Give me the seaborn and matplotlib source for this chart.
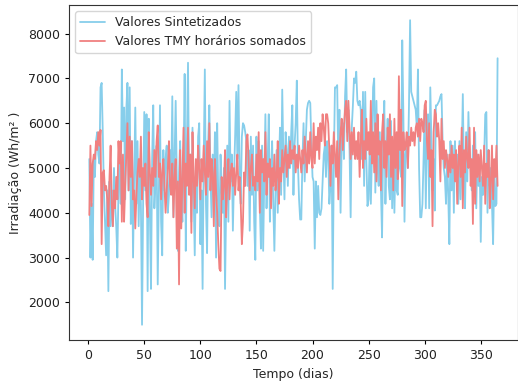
import numpy as np
import pandas as pd
import seaborn as sns
import matplotlib
matplotlib.use("Agg")
import matplotlib.pyplot as plt

# Daily irradiation (Wh/m²), days 1..365
sintetizados = [
    5200, 3000, 4200, 2950, 5200, 4800, 5600, 5800, 5300, 5100,
    6800, 6900, 5800, 4500, 3800, 3050, 4500, 2250, 4700, 3700,
    4500, 3700, 5000, 4200, 3700, 3000, 4500, 5300, 4200, 7200,
    5600, 6350, 4300, 6300, 6900, 4500, 6800, 3750, 5600, 3000,
    4800, 6350, 4200, 5600, 3700, 4900, 4200, 1500, 4300, 6250,
    4500, 6200, 2250, 6100, 4000, 2300, 5200, 6400, 4100, 4700,
    5500, 2400, 4400, 6400, 3800, 3050, 5400, 4500, 5200, 5500,
    4000, 4400, 5400, 4600, 6600, 3900, 5200, 6500, 4800, 3150,
    4900, 5600, 4200, 3800, 5000, 7100, 3150, 5500, 7350, 4600,
    5300, 3800, 5900, 4400, 3050, 4800, 4000, 5700, 6000, 3300,
    4500, 2300, 5200, 7200, 4200, 3100, 5600, 6400, 4800, 3900,
    5300, 4400, 5800, 3000, 6000, 4300, 3700, 5300, 4500, 4000,
    5000, 2300, 4200, 5500, 3800, 6500, 4700, 5300, 3600, 4800,
    5700, 6700, 5200, 6850, 4900, 4200, 5700, 6000, 5950, 5800,
    5600, 4600, 5400, 3600, 5700, 4400, 5500, 3800, 2950, 5700,
    4500, 5600, 4200, 3200, 5500, 3150, 4800, 6200, 4100, 5100,
    6200, 3800, 4900, 5600, 4200, 3150, 4500, 5400, 4000, 5000,
    5900, 4400, 6750, 5300, 4300, 5800, 5400, 4600, 5700, 5000,
    5800, 6400, 4400, 5500, 6000, 6950, 5100, 4300, 3850, 3850,
    5200, 6000, 4700, 5600, 6300, 6450, 6500, 6450, 5500, 4800,
    4700, 3200, 4700, 3900, 4600, 4000, 3950, 4100, 4700, 5300,
    5500, 4800, 5600, 5300, 4200, 4600, 5500, 2300, 5100, 6800,
    6800, 6850, 5000, 6300, 4000, 5500, 6000, 5200, 6600, 7200,
    5800, 6300, 5400, 3900, 5900, 6400, 7000, 6900, 7150, 6500,
    6400, 6500, 6300, 5200, 6700, 4600, 6700, 5200, 4150, 4300,
    5600, 4200, 5300, 6800, 7000, 4450, 6500, 5000, 4600, 5800,
    4500, 3450, 5600, 6500, 4200, 5400, 6100, 4600, 4300, 6050,
    4100, 5600, 4000, 5200, 4500, 4400, 5800, 5000, 4800, 7850,
    6200, 3800, 5300, 5600, 5000, 6400, 8300, 6700, 6600, 6500,
    6400, 6300, 5900, 7200, 5000, 3900, 3900, 4200, 5200, 6300,
    4100, 5800, 6200, 4100, 6800, 5600, 4500, 5200, 4050, 6400,
    6400, 6450, 6500, 6600, 6650, 5600, 5000, 4800, 4200, 5300,
    4400, 3300, 5600, 4500, 5500, 4000, 5600, 4700, 5300, 4200,
    5600, 4300, 5200, 6650, 4800, 4100, 5800, 4700, 6250, 5200,
    5000, 4500, 5500, 4700, 5800, 4100, 5300, 4600, 5200, 3350,
    4800, 4400, 5200, 6200, 6250, 4000, 5400, 4600, 5000, 4200,
    3300, 4900, 4150, 4200, 7450,
]

tmy_somados = [
    3950, 5500, 4150, 5100, 5300, 5200, 5600, 5400, 5800, 5500,
    5850, 3300, 4900, 4950, 4500, 4600, 4300, 3700, 4800, 5500,
    4200, 3700, 4500, 4100, 4800, 4300, 5600, 5100, 5600, 3800,
    5300, 3800, 4600, 5300, 6000, 4500, 5700, 4800, 5600, 4300,
    4500, 3650, 4400, 4900, 5200, 4800, 5700, 4300, 5000, 4600,
    5100, 4200, 3900, 5800, 4900, 4400, 5000, 4600, 5400, 4800,
    5600, 5950, 4800, 5100, 4300, 4900, 5200, 4600, 4000, 4500,
    5000, 5600, 4600, 4400, 5100, 3900, 4800, 5200, 3200, 4700,
    2400, 5400, 3650, 4800, 5900, 4000, 5100, 4600, 5900, 4400,
    5300, 3550, 5800, 4800, 4100, 5200, 4600, 5500, 5000, 4300,
    5200, 4700, 5500, 4900, 4400, 5600, 4800, 6000, 4500, 5200,
    4900, 3700, 5200, 4500, 4000, 3300, 2750, 2700, 4800, 4300,
    4600, 5400, 3900, 4700, 5200, 4300, 4900, 5100, 4600, 5000,
    4400, 4900, 5300, 4500, 4800, 4200, 3300, 3800, 4900, 4600,
    5600, 5750, 5200, 4500, 5000, 5300, 4600, 4800, 4500, 5300,
    4700, 5800, 4000, 5400, 4900, 5200, 4700, 5800, 4400, 5100,
    4800, 5200, 4100, 5000, 4600, 5300, 4500, 4800, 5600, 4200,
    5000, 4700, 5400, 4900, 5200, 5500, 4800, 5300, 5000, 5600,
    5100, 5400, 5200, 5500, 4900, 5300, 5000, 5500, 5200, 4900,
    5400, 5100, 5700, 5300, 4900, 5600, 5100, 5800, 5200, 5000,
    6000, 5100, 5700, 5400, 5900, 5200, 6000, 5600, 6200, 5900,
    5500, 6200, 6200, 6000, 5400, 4600, 5500, 5100, 5800, 5300,
    4800, 5600, 4300, 5300, 5800, 6100, 5400, 5900, 6300, 6500,
    5600, 6500, 5900, 5200, 5800, 5300, 5900, 5200, 5600, 5200,
    5800, 4800, 5600, 6300, 5000, 5600, 5200, 6100, 5400, 5800,
    5300, 6500, 5100, 5800, 4900, 6000, 4700, 6200, 5300, 5600,
    4500, 5800, 6200, 5000, 5600, 4800, 5900, 5300, 6200, 4800,
    5700, 4500, 6100, 5000, 5800, 4750, 7050, 5400, 6300, 4150,
    5800, 5400, 5500, 5800, 5000, 5700, 5500, 5900, 5600, 5800,
    5500, 5900, 6000, 5700, 6100, 5600, 6100, 6000, 5800, 6400,
    6500, 5600, 5200, 6000, 4800, 5400, 3700, 5800, 6300, 6200,
    5700, 6000, 5600, 4700, 6100, 5200, 5600, 5000, 5400, 5200,
    4800, 5300, 4900, 5500, 5000, 5300, 4700, 5400, 4200, 5100,
    5500, 4800, 5900, 4100, 5400, 4900, 5700, 5200, 5000, 5900,
    4600, 5200, 3750, 5900, 4200, 5400, 4800, 5300, 4700, 5400,
    5000, 4600, 5500, 4200, 5100, 4800, 5400, 4100, 4700, 5500,
    4300, 5200, 4800, 5500, 4600,
]

dias = np.arange(1, len(sintetizados) + 1)

df = pd.DataFrame({
    "dia": np.concatenate([dias, dias]),
    "valor": sintetizados + tmy_somados,
    "serie": ["Valores Sintetizados"] * len(sintetizados)
    + ["Valores TMY horários somados"] * len(tmy_somados),
})

sns.set_style("white")
plt.rcParams["font.family"] = ["DejaVu Sans"]
plt.rcParams["font.size"] = 9

fig, ax = plt.subplots(figsize=(5.18, 3.82), dpi=100)
sns.lineplot(
    data=df, x="dia", y="valor", hue="serie",
    palette={"Valores Sintetizados": "skyblue",
             "Valores TMY horários somados": "lightcoral"},
    linewidth=1.3, ax=ax,
)
ax.set_xlabel("Tempo (dias)", fontsize=9)
ax.set_ylabel("Irradiação (Wh/m² )", fontsize=9)
ax.tick_params(axis="both", which="both", labelsize=9, length=3, width=0.8,
               bottom=True, left=True, direction="out", color="black",
               labelcolor="#222222")
ax.legend(loc="upper left", title=None, fontsize=9)
for s in ax.spines.values():
    s.set_color("#333333")
    s.set_linewidth(0.8)
fig.subplots_adjust(left=0.133, right=1.0, top=0.987, bottom=0.11)
fig.savefig("out.png", dpi=100)
